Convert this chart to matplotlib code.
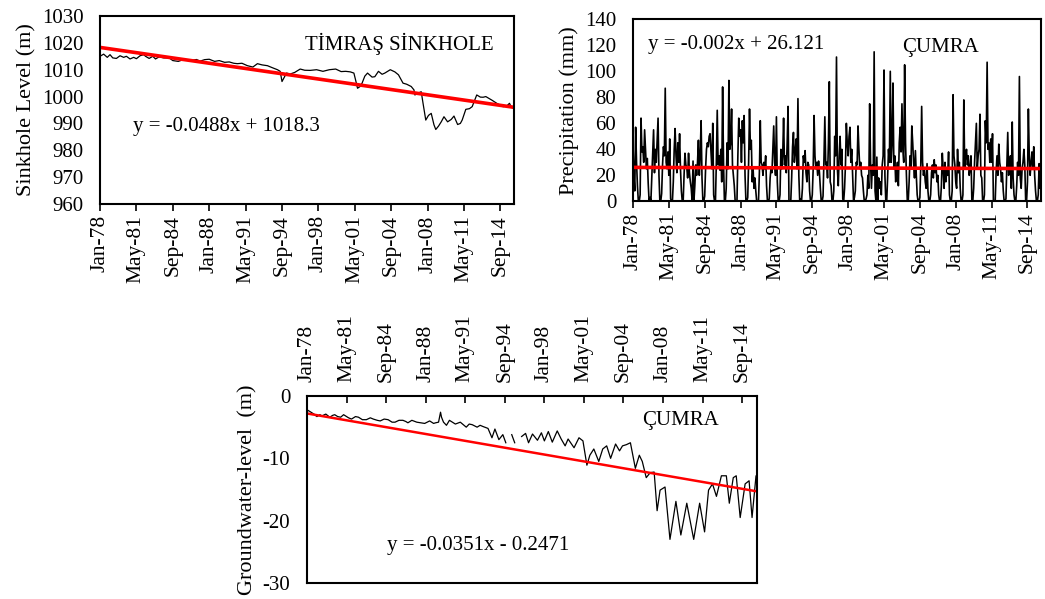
import numpy as np
import matplotlib
matplotlib.use("Agg")
import matplotlib.pyplot as plt

plt.rcParams['font.family'] = ['Liberation Serif', 'DejaVu Serif']
plt.rcParams['axes.unicode_minus'] = False

# month index 0 = Jan-1978, 455 = Dec-2015
tick_pos = [0, 40, 80, 120, 160, 200, 240, 280, 320, 360, 400, 440]
tick_labels = ['Jan-78', 'May-81', 'Sep-84', 'Jan-88', 'May-91', 'Sep-94',
               'Jan-98', 'May-01', 'Sep-04', 'Jan-08', 'May-11', 'Sep-14']

# Timras sinkhole level (m)
sink_month = [0, 4, 8, 11, 14, 18, 22, 26, 29, 33, 37, 40, 44, 48, 50, 54, 58, 61,
              65, 70, 76, 80, 86, 92, 96, 101, 106, 110, 115, 120, 126, 131, 137,
              142, 147, 151, 156, 162, 168, 173, 178, 184, 189, 195, 198, 200, 203,
              205, 209, 214, 220, 225, 231, 238, 245, 252, 259, 265, 270, 275, 279,
              281, 283, 286, 288, 291, 294, 299, 302, 306, 310, 313, 319, 324, 328,
              333, 337, 342, 345, 346, 351, 353, 355, 358, 361, 364, 367, 369, 372,
              375, 378, 382, 386, 389, 393, 396, 398, 402, 406, 409, 414, 418, 421,
              424, 427, 431, 436, 440, 443, 447, 450, 452, 455]
sink_level = [1015.0, 1015.8, 1014.6, 1015.6, 1014.4, 1014.2, 1015.2, 1014.6, 1015.0,
              1014.0, 1014.6, 1014.1, 1015.2, 1015.6, 1015.0, 1014.2, 1015.0, 1014.0,
              1014.8, 1014.4, 1014.4, 1013.4, 1013.1, 1013.8, 1013.5, 1013.5, 1013.8,
              1013.2, 1013.75, 1013.9, 1013.1, 1013.4, 1012.75, 1012.9, 1012.4,
              1012.25, 1012.4, 1011.5, 1011.0, 1012.25, 1011.8, 1011.5, 1010.8,
              1010.0, 1009.4, 1005.6, 1007.5, 1008.75, 1008.4, 1009.0, 1010.25,
              1009.8, 1009.75, 1010.0, 1009.4, 1010.0, 1010.25, 1009.3, 1009.4,
              1009.2, 1008.75, 1006.0, 1003.1, 1003.8, 1005.0, 1007.6, 1008.75,
              1007.25, 1007.4, 1009.4, 1008.3, 1008.75, 1010.0, 1009.2, 1008.1,
              1005.0, 1004.6, 1003.75, 1002.5, 1000.6, 1001.5, 1001.8, 997.5, 991.25,
              993.0, 993.75, 989.5, 987.75, 989.0, 990.6, 992.5, 990.6, 991.5, 992.75,
              989.6, 990.0, 991.25, 995.25, 995.5, 996.25, 1000.6, 999.8, 999.75,
              1000.0, 999.4, 998.6, 997.5, 996.8, 996.25, 996.5, 997.5, 996.0, 995.6]
sink_trend = [1018.3, 996.0]

# Cumra monthly precipitation (mm), one row per year Jan..Dec, 1978-2015
precip_rows = [
    [45, 20, 8, 57, 30, 12, 0, 0, 5, 64, 38, 42],
    [30, 55, 40, 25, 33, 14, 0, 3, 0, 18, 35, 55],
    [22, 40, 30, 48, 64, 20, 0, 0, 6, 28, 42, 35],
    [87, 30, 25, 38, 20, 48, 2, 0, 0, 15, 40, 56],
    [35, 22, 45, 30, 52, 25, 8, 0, 0, 20, 37, 28],
    [26, 18, 37, 22, 15, 10, 0, 31, 0, 12, 28, 20],
    [30, 47, 20, 35, 62, 18, 0, 0, 4, 25, 40, 45],
    [42, 50, 52, 38, 25, 60, 5, 0, 0, 30, 70, 28],
    [35, 24, 40, 15, 88, 30, 0, 0, 10, 45, 25, 93],
    [40, 45, 71, 28, 20, 12, 0, 0, 0, 35, 64, 50],
    [55, 30, 62, 45, 66, 20, 0, 0, 3, 30, 71, 40],
    [47, 15, 25, 10, 18, 8, 0, 0, 0, 22, 62, 30],
    [28, 20, 30, 25, 35, 12, 0, 0, 2, 18, 26, 22],
    [40, 58, 30, 20, 65, 15, 0, 0, 5, 40, 25, 35],
    [64, 28, 35, 22, 45, 73, 0, 0, 0, 18, 42, 53],
    [30, 38, 48, 25, 79, 20, 0, 2, 0, 10, 35, 30],
    [39, 22, 15, 30, 28, 8, 0, 0, 5, 25, 66, 35],
    [25, 30, 20, 31, 22, 10, 0, 0, 4, 32, 65, 28],
    [30, 18, 45, 92, 15, 12, 0, 0, 8, 50, 35, 111],
    [25, 12, 35, 50, 28, 40, 2, 0, 10, 28, 60, 45],
    [35, 50, 57, 30, 40, 20, 0, 3, 8, 30, 28, 58],
    [40, 25, 30, 20, 18, 8, 0, 0, 2, 5, 20, 10],
    [75, 30, 10, 28, 20, 115, 8, 0, 34, 0, 18, 10],
    [15, 5, 28, 35, 101, 20, 0, 0, 18, 40, 30, 100],
    [30, 45, 91, 25, 35, 15, 22, 30, 12, 45, 57, 38],
    [75, 40, 30, 105, 45, 20, 0, 0, 15, 35, 25, 58],
    [45, 30, 18, 39, 20, 5, 0, 0, 3, 28, 73, 30],
    [20, 25, 15, 10, 29, 8, 0, 0, 5, 22, 28, 18],
    [32, 22, 28, 15, 20, 5, 0, 0, 12, 37, 25, 10],
    [30, 15, 25, 20, 38, 5, 0, 0, 8, 82, 35, 28],
    [15, 10, 40, 22, 30, 10, 0, 0, 5, 78, 25, 35],
    [40, 28, 35, 20, 25, 35, 0, 0, 10, 30, 45, 60],
    [25, 35, 40, 67, 20, 18, 0, 0, 5, 62, 45, 107],
    [40, 45, 30, 48, 30, 52, 0, 0, 0, 22, 35, 20],
    [44, 30, 25, 15, 22, 8, 0, 0, 2, 28, 53, 20],
    [25, 35, 10, 61, 18, 5, 0, 0, 12, 30, 20, 96],
    [18, 10, 25, 30, 40, 28, 0, 0, 15, 71, 35, 20],
    [30, 38, 25, 42, 20, 8, 0, 0, 5, 29, 10, 25],
]
precip_trend = [26.1, 25.2]

# Cumra groundwater level (m), None = missing
gw_month = [0, 1, 4, 7, 10, 13, 15, 19, 23, 26, 28, 31, 34, 37, 39, 42, 45, 49, 52,
            56, 60, 64, 67, 71, 74, 78, 82, 86, 89, 93, 97, 100, 102, 106, 111, 115,
            119, 124, 128, 130, 133, 135, 136, 138, 141, 144, 147, 150, 155, 158,
            161, 164, 167, 172, 175, 178, 183, 187, 190, 194, 198, 201, 204, 207,
            210, 213, 217, 221, 224, 228, 233, 237, 240, 244, 248, 253, 257, 261,
            264, 270, 275, 279, 283, 286, 290, 295, 299, 303, 307, 312, 316, 319,
            323, 327, 332, 336, 339, 343, 347, 351, 354, 357, 362, 367, 373, 378,
            384, 391, 397, 402, 406, 410, 414, 419, 424, 427, 431, 434, 438, 443,
            447, 450, 454, 455]
gw_level = [-2.6, -2.3, -2.6, -2.9, -3.3, -3.0, -3.2, -2.9, -3.4, -3.1, -3.0, -3.3,
            -3.4, -3.0, -3.2, -3.5, -3.7, -3.3, -3.4, -3.8, -3.8, -3.5, -3.7, -3.9,
            -4.0, -3.7, -3.8, -4.2, -4.2, -3.9, -3.9, -4.1, -4.3, -3.9, -4.2, -4.3,
            -4.4, -4.0, -4.4, -4.3, -4.2, -2.6, -3.4, -4.2, -4.7, -3.9, -4.2, -4.5,
            -4.2, -4.6, -5.0, -4.5, -4.6, -5.0, -4.7, -4.9, -5.2, -6.7, -5.3, -7.0,
            -6.2, -7.5, None, -6.2, -7.5, None, -6.5, -6.0, -7.5, -6.1, -7.1, -5.9,
            -7.2, -5.7, -7.4, -5.6, -6.9, -8.0, -6.9, -8.3, -6.7, -7.2, -11.1, -9.5,
            -8.5, -10.5, -8.5, -8.0, -10.0, -7.7, -8.8, -8.0, -7.8, -7.5, -11.6,
            -9.5, -10.5, -13.1, -12.3, -12.2, -18.4, -15.1, -14.6, -23.0, -16.9,
            -22.3, -17.2, -23.0, -17.2, -21.8, -15.1, -14.1, -16.1, -12.8, -12.8,
            -17.2, -13.1, -12.8, -19.5, -14.1, -13.6, -19.5, -12.8, -13.2]
gw_trend = [-2.8, -15.3]

precip = np.array(precip_rows, dtype=float).ravel()
precip_month = np.arange(len(precip))
gw = np.array([np.nan if v is None else v for v in gw_level])
ends = [0, 455]

fig = plt.figure(figsize=(10.45, 5.99), dpi=100)
ax1 = fig.add_axes([0.0957, 0.6594, 0.3962, 0.3139])
ax2 = fig.add_axes([0.6057, 0.6639, 0.3904, 0.3038])
ax3 = fig.add_axes([0.2938, 0.0267, 0.4306, 0.3122])

fs = 15
for ax in (ax1, ax2, ax3):
    ax.set_xlim(0, 455)
    ax.set_xticks(tick_pos)
    ax.set_xticklabels(tick_labels, rotation=90, fontsize=15.5)
    ax.tick_params(axis='y', length=0, labelsize=fs, pad=12)
    for s in ax.spines.values():
        s.set_linewidth(1.5)

# sinkhole
ax1.plot(sink_month, sink_level, color='black', lw=0.9)
ax1.plot(ends, sink_trend, color='red', lw=2.6)
ax1.set_ylim(960, 1030)
ax1.set_yticks(range(960, 1031, 10))
ax1.set_ylabel('Sinkhole Level (m)', fontsize=16, labelpad=4)
ax1.tick_params(axis='x', direction='out', length=5, width=1.2, pad=3)
ax1.text(0.722, 0.85, 'TİMRAŞ SİNKHOLE', transform=ax1.transAxes,
         ha='center', va='center', fontsize=fs)
ax1.text(0.08, 0.41, 'y = -0.0488x + 1018.3', transform=ax1.transAxes,
         ha='left', va='center', fontsize=fs)

# precipitation
ax2.plot(precip_month, precip, color='black', lw=1.2)
ax2.plot(ends, precip_trend, color='red', lw=2.6)
ax2.set_ylim(0, 140)
ax2.set_yticks(range(0, 141, 20))
ax2.set_ylabel('Precipitation (mm)', fontsize=16, labelpad=4)
ax2.tick_params(axis='x', direction='out', length=5, width=1.2, pad=3)
ax2.text(0.037, 0.86, 'y = -0.002x + 26.121', transform=ax2.transAxes,
         ha='left', va='center', fontsize=fs)
ax2.text(0.755, 0.846, 'ÇUMRA', transform=ax2.transAxes,
         ha='center', va='center', fontsize=fs)

# groundwater
ax3.plot(gw_month, gw, color='black', lw=0.9)
ax3.plot(ends, gw_trend, color='red', lw=1.8)
ax3.set_ylim(-30, 0)
ax3.set_yticks(range(-30, 1, 10))
ax3.set_ylabel('Groundwater-level  (m)', fontsize=16, labelpad=4)
ax3.xaxis.tick_top()
ax3.tick_params(axis='x', direction='in', length=5, width=1.2, pad=10,
                top=True, bottom=False, labeltop=True, labelbottom=False)
ax3.text(0.83, 0.87, 'ÇUMRA', transform=ax3.transAxes,
         ha='center', va='center', fontsize=fs)
ax3.text(0.178, 0.2, 'y = -0.0351x - 0.2471', transform=ax3.transAxes,
         ha='left', va='center', fontsize=fs)

fig.savefig('out.png', dpi=100)
